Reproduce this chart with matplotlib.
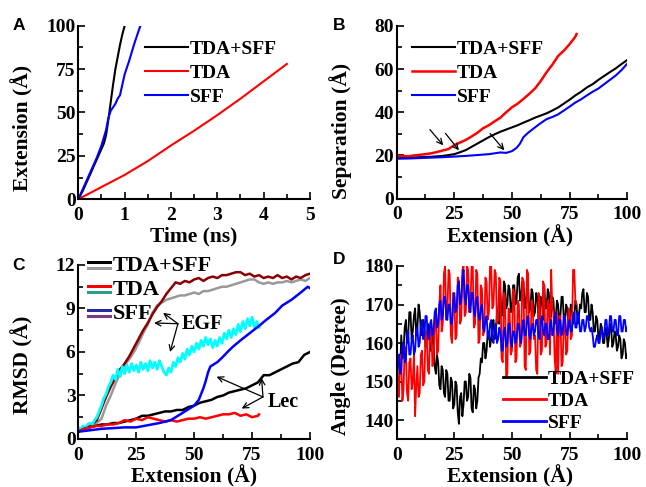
import matplotlib
matplotlib.use('Agg')
import matplotlib.pyplot as plt
from matplotlib.ticker import MultipleLocator
from matplotlib.legend_handler import HandlerBase
from matplotlib.lines import Line2D

plt.rcParams['font.family'] = 'Liberation Serif'
plt.rcParams['font.weight'] = 'bold'
plt.rcParams['axes.labelweight'] = 'bold'

# ---- A: extension vs time ----
a_time_both = [0, 0.1, 0.2, 0.3, 0.4, 0.5, 0.55, 0.6, 0.65, 0.7, 0.75, 0.8, 0.85, 0.9, 0.95, 1.0]
a_ext_both = [0, 5, 11, 17, 23, 29, 32, 37, 46, 56, 66, 75, 82, 89, 95, 100]
a_time_tda = [0, 0.5, 1, 1.5, 2, 2.5, 3, 3.5, 4, 4.5]
a_ext_tda = [0, 7, 14, 22, 31, 39.5, 48.5, 58, 68, 78]
a_time_sff = [0, 0.1, 0.2, 0.3, 0.4, 0.5, 0.6, 0.65, 0.7, 0.8, 0.85, 0.9, 0.95, 1.0, 1.1, 1.2, 1.3, 1.34]
a_ext_sff = [0, 6, 12, 18, 24, 31, 40, 47, 51, 55, 58, 60, 66, 72, 80, 89, 97, 100]

# ---- B: separation vs extension ----
b_ext_tda = [0, 2.5, 5, 7.5, 10, 12.5, 15, 17.5, 20, 22.5, 25, 27.5, 30, 32.5, 35, 37.5, 40,
             42.5, 45, 47.5, 50, 52.5, 55, 57.5, 60, 62.5, 65, 67.5, 70, 72.5, 75, 77.5, 78]
b_sep_tda = [19.5, 19.8, 19.6, 20.0, 20.3, 20.6, 21.0, 21.6, 22.3, 23.0, 24.8, 26.0, 27.2, 28.8,
             30.5, 32.6, 34.0, 35.8, 37.5, 40.0, 42.3, 44.0, 46.2, 48.5, 51.0, 54.5, 58.5, 62.0,
             66.0, 68.5, 71.5, 75.0, 76.2]
b_ext_both = [0, 5, 10, 15, 20, 25, 27.5, 30, 32.5, 35, 37.5, 40, 42.5, 45, 47.5, 50, 52.5, 55,
              57.5, 60, 62.5, 65, 67.5, 70, 72.5, 75, 77.5, 80, 82.5, 85, 87.5, 90, 92.5, 95, 97.5, 100]
b_sep_both = [19.0, 19.0, 19.2, 19.4, 19.8, 20.6, 21.5, 22.5, 24.0, 25.5, 27.0, 28.5, 29.8, 31.0,
              32.0, 33.0, 34.0, 35.2, 36.3, 37.5, 38.5, 39.5, 40.8, 42.2, 44.0, 45.8, 47.8, 49.5,
              51.5, 53.0, 55.0, 56.8, 58.6, 60.3, 62.3, 64.2]
b_ext_sff = [0, 5, 10, 15, 20, 25, 30, 35, 40, 42.5, 45, 47.5, 50, 52, 53.5, 55, 57, 60, 62.5, 65,
             67.5, 70, 72.5, 75, 77.5, 80, 82.5, 85, 87.5, 90, 92.5, 95, 97.5, 100]
b_sep_sff = [18.5, 18.6, 18.8, 19.0, 19.2, 19.5, 19.8, 20.2, 20.6, 21.0, 21.4, 21.2, 22.0, 23.5,
             25.5, 28.5, 30.5, 33.0, 35.0, 36.8, 37.8, 39.0, 40.8, 42.6, 44.5, 46.0, 47.8, 49.5,
             51.0, 53.0, 55.0, 57.0, 59.5, 62.5]

# ---- C: RMSD vs extension (Lec and EGF domains) ----
c_ext_egf_sff = list(range(0, 101, 2))
c_rmsd_egf_sff = [0.5, 0.7, 0.8, 1.0, 1.3, 2.1, 2.9, 3.6, 4.2, 4.8, 5.2, 5.7, 6.3, 6.9, 7.5, 8.0,
                  8.6, 9.1, 9.5, 10.0, 10.4, 10.8, 10.7, 10.9, 10.8, 11.0, 11.1, 10.9, 11.1, 11.2,
                  11.1, 11.3, 11.3, 11.4, 11.5, 11.5, 11.3, 11.4, 11.2, 11.3, 11.1, 11.2, 11.1,
                  11.3, 11.1, 11.2, 11.0, 11.2, 11.1, 11.3, 11.4]
c_ext_egf_both = list(range(0, 101, 2))
c_rmsd_egf_both = [0.5, 0.7, 0.8, 0.9, 1.1, 1.4, 2.3, 3.0, 3.8, 4.5, 5.1, 5.5, 6.0, 6.6, 7.3, 7.9,
                   8.7, 9.2, 9.4, 9.6, 9.7, 9.8, 9.9, 9.9, 10.0, 10.1, 10.0, 10.2, 10.2, 10.3,
                   10.4, 10.5, 10.5, 10.6, 10.7, 10.8, 10.9, 11.0, 11.0, 10.8, 10.7, 10.8, 10.7,
                   10.8, 10.8, 10.9, 10.8, 10.9, 11.0, 10.9, 11.1]
c_ext_egf_tda = list(range(0, 79))
c_rmsd_egf_tda = [0.8, 0.7, 0.9, 0.8, 1.0, 1.1, 1.0, 1.3, 1.5, 1.9, 2.3, 2.8, 3.1, 3.6, 3.9, 4.4,
                  4.1, 4.8, 4.3, 5.0, 4.5, 5.1, 4.6, 5.2, 4.7, 5.1, 4.6, 5.3, 4.8, 5.2, 4.7, 5.4,
                  4.9, 5.3, 4.8, 5.4, 5.0, 4.6, 4.4, 4.9, 4.6, 5.3, 5.0, 5.6, 5.3, 5.9, 5.5, 6.2,
                  5.8, 6.4, 6.0, 6.6, 6.2, 6.8, 6.4, 7.0, 6.5, 6.9, 6.3, 6.8, 6.4, 7.0, 6.6, 7.3,
                  6.9, 7.5, 7.0, 7.6, 7.2, 7.9, 7.4, 8.1, 7.6, 8.3, 7.8, 8.4, 7.7, 8.1, 7.7]
c_ext_lec_both = [0, 2.5, 5, 7.5, 10, 12.5, 15, 17.5, 20, 22.5, 25, 27.5, 30, 32.5, 35, 37.5, 40,
                  42.5, 45, 47.5, 50, 52.5, 55, 57.5, 60, 62.5, 65, 67.5, 70, 72.5, 75, 77.5, 80,
                  82.5, 85, 87.5, 90, 92.5, 95, 97.5, 100]
c_rmsd_lec_both = [0.5, 0.7, 0.8, 0.9, 1.0, 1.0, 1.1, 1.1, 1.2, 1.3, 1.4, 1.6, 1.6, 1.7, 1.8, 1.9,
                   1.9, 2.0, 2.0, 2.2, 2.3, 2.5, 2.6, 2.7, 2.9, 3.0, 3.2, 3.3, 3.4, 3.5, 3.7, 3.9,
                   4.4, 4.4, 4.6, 4.8, 5.0, 5.2, 5.3, 5.8, 6.0]
c_ext_lec_tda = [0, 2.5, 5, 7.5, 10, 12.5, 15, 17.5, 20, 22.5, 25, 27.5, 30, 32.5, 35, 37.5, 40,
                 42.5, 45, 47.5, 50, 52.5, 55, 57.5, 60, 62.5, 65, 67.5, 70, 72.5, 75, 77.5, 78]
c_rmsd_lec_tda = [0.5, 0.7, 0.8, 0.9, 0.9, 1.0, 1.0, 1.1, 1.3, 1.2, 1.4, 1.3, 1.5, 1.4, 1.3, 1.2,
                  1.3, 1.2, 1.3, 1.4, 1.4, 1.5, 1.4, 1.5, 1.6, 1.7, 1.7, 1.8, 1.6, 1.7, 1.5, 1.6, 1.7]
c_ext_lec_sff = [0, 10, 20, 25, 30, 35, 40, 45, 48, 50, 52, 54, 55, 56, 57, 60, 62, 65, 67, 70,
                 74, 78, 81, 85, 88, 92, 96, 99, 100]
c_rmsd_lec_sff = [0.5, 0.7, 0.8, 0.8, 0.95, 1.1, 1.3, 1.8, 2.1, 2.3, 2.7, 3.5, 4.0, 4.6, 5.0, 5.3,
                  5.6, 6.1, 6.4, 6.8, 7.3, 7.8, 8.2, 8.7, 9.2, 9.6, 10.1, 10.5, 10.4]

# ---- D: angle vs extension, sampled every 0.5 A ----
d_ext_both = [i * 0.5 for i in range(201)]
d_ang_both = [150, 155, 157, 152, 162, 156, 158, 164, 166, 160,
              162, 168, 168, 161, 163, 167, 169, 162, 164, 170,
              168, 163, 162, 166, 165, 159, 160, 165, 164, 158,
              158, 163, 160, 154, 152, 157, 155, 149, 148, 154,
              153, 147, 146, 153, 152, 145, 145, 151, 150, 143,
              144, 150, 149, 142, 139, 146, 147, 141, 144, 150,
              150, 145, 146, 152, 151, 143, 142, 149, 148, 143,
              145, 151, 152, 156, 155, 160, 160, 156, 158, 163,
              163, 159, 161, 165, 166, 161, 163, 168, 168, 165,
              173, 167, 168, 176, 175, 169, 170, 175, 174, 168,
              169, 175, 175, 170, 171, 177, 178, 171, 172, 176,
              176, 169, 170, 175, 174, 168, 169, 174, 173, 167,
              168, 173, 172, 166, 167, 172, 171, 166, 175, 169,
              169, 174, 173, 166, 167, 172, 171, 165, 166, 171,
              170, 165, 167, 172, 172, 166, 166, 170, 169, 164,
              165, 170, 169, 165, 166, 171, 170, 165, 167, 170,
              169, 173, 174, 168, 168, 173, 172, 166, 166, 170,
              168, 163, 163, 167, 166, 161, 162, 165, 164, 160,
              160, 164, 163, 159, 161, 165, 164, 159, 160, 163,
              162, 158, 159, 162, 161, 156, 157, 161, 160, 156,
              157]
d_ext_tda = [i * 0.5 for i in range(157)]
d_ang_tda = [160, 150, 146, 157, 155, 145, 148, 159, 158, 147,
             145, 155, 156, 148, 150, 157, 141, 149, 154, 146,
             147, 157, 158, 149, 150, 162, 163, 153, 152, 164,
             165, 154, 155, 166, 168, 157, 158, 170, 175, 163,
             165, 178, 180, 166, 168, 179, 178, 162, 160, 173,
             172, 161, 162, 177, 176, 165, 166, 179, 180, 167,
             168, 180, 179, 168, 170, 180, 180, 164, 165, 179,
             178, 160, 161, 175, 174, 162, 163, 177, 176, 166,
             168, 180, 180, 169, 170, 179, 178, 165, 166, 177,
             176, 156, 155, 173, 172, 151, 152, 169, 168, 157,
             158, 174, 173, 155, 156, 171, 170, 159, 160, 177,
             176, 154, 153, 179, 178, 157, 158, 171, 170, 161,
             162, 153, 152, 173, 172, 157, 158, 176, 175, 159,
             160, 171, 170, 157, 179, 169, 168, 156, 152, 168,
             152, 167, 167, 154, 155, 166, 165, 157, 158, 169,
             168, 161, 162, 179, 179, 171,
             170]
d_ext_sff = [i * 0.5 for i in range(201)]
d_ang_sff = [150, 155, 157, 152, 153, 159, 160, 155, 156, 162,
             163, 157, 157, 161, 162, 157, 158, 163, 164, 159,
             160, 165, 166, 161, 162, 167, 167, 162, 161, 165,
             166, 162, 163, 168, 169, 164, 165, 170, 171, 166,
             167, 172, 172, 167, 166, 170, 170, 165, 165, 171,
             173, 168, 169, 175, 176, 170, 171, 177, 179, 172,
             170, 175, 175, 169, 168, 173, 173, 168, 167, 171,
             172, 167, 166, 169, 170, 164, 163, 166, 167, 162,
             161, 165, 166, 161, 160, 164, 165, 160, 161, 164,
             163, 158, 158, 163, 164, 159, 160, 165, 165, 160,
             159, 163, 163, 160, 161, 165, 165, 161, 160, 164,
             166, 162, 162, 166, 167, 162, 161, 164, 165, 162,
             163, 166, 166, 162, 161, 166, 167, 163, 162, 165,
             165, 161, 161, 165, 166, 162, 163, 167, 168, 163,
             162, 166, 166, 162, 163, 167, 167, 163, 162, 165,
             166, 163, 163, 167, 168, 164, 164, 168, 167, 163,
             163, 166, 166, 163, 164, 167, 167, 164, 163, 164,
             162, 159, 159, 161, 162, 160, 160, 163, 164, 161,
             162, 166, 166, 162, 163, 167, 167, 163, 163, 166,
             166, 162, 162, 167, 167, 163, 163, 166, 166, 163,
             164]


class PairHandler(HandlerBase):
    # two stacked colour lines per legend entry
    def create_artists(self, legend, orig_handle, xdescent, ydescent, width, height, fontsize, trans):
        arts = []
        for color, frac in zip(orig_handle, (0.6, 0.2)):
            y = frac * height - ydescent
            arts.append(Line2D([-xdescent, width - xdescent], [y, y], color=color, lw=2.2,
                               transform=trans))
        return arts


def style(ax, xmaj, ymaj):
    for s in ['top', 'right']:
        ax.spines[s].set_visible(False)
    for s in ['left', 'bottom']:
        ax.spines[s].set_linewidth(1.5)
    ax.xaxis.set_major_locator(MultipleLocator(xmaj))
    ax.xaxis.set_minor_locator(MultipleLocator(xmaj / 2))
    ax.yaxis.set_major_locator(MultipleLocator(ymaj))
    ax.yaxis.set_minor_locator(MultipleLocator(ymaj / 2))
    ax.tick_params(which='both', direction='in', width=1.2, labelsize=14, top=False, right=False)
    ax.tick_params(which='major', length=5)
    ax.tick_params(which='minor', length=3.5)
    ax.tick_params(axis='x', pad=5.5)
    ax.tick_params(axis='y', pad=2)


def arrow(ax, tail, head):
    ax.annotate('', xy=head, xytext=tail,
                arrowprops=dict(arrowstyle='->', lw=0.9, color='k', shrinkA=0, shrinkB=0))


legend_kw = dict(loc='upper left', frameon=False, borderpad=0, borderaxespad=0,
                 handletextpad=0.1)

fig = plt.figure(figsize=(6.46, 4.87), dpi=100)
axA = fig.add_axes([0.1212, 0.591, 0.3587, 0.356])
axB = fig.add_axes([0.614, 0.592, 0.357, 0.355])
axC = fig.add_axes([0.1212, 0.0986, 0.3587, 0.3573])
axD = fig.add_axes([0.614, 0.098, 0.357, 0.3558])

# A
axA.plot(a_time_both, a_ext_both, color='black', lw=1.5, label='TDA+SFF')
axA.plot(a_time_tda, a_ext_tda, color='red', lw=1.5, label='TDA')
axA.plot(a_time_sff, a_ext_sff, color='blue', lw=1.5, label='SFF')
axA.set_xlim(0, 5)
axA.set_ylim(0, 100)
style(axA, 1, 25)
axA.set_xlabel('Time (ns)', fontsize=15.5)
axA.set_ylabel('Extension (Å)', fontsize=15.5)
axA.xaxis.set_label_coords(0.5, -0.16)
axA.yaxis.set_label_coords(-0.195, 0.41)
axA.legend(bbox_to_anchor=(0.288, 0.917), fontsize=14, labelspacing=0.33, handlelength=2.2,
           **legend_kw)

# B
axB.plot(b_ext_both, b_sep_both, color='black', lw=1.5, label='TDA+SFF')
axB.plot(b_ext_tda, b_sep_tda, color='red', lw=1.8, label='TDA')
axB.plot(b_ext_sff, b_sep_sff, color='blue', lw=1.5, label='SFF')
arrow(axB, (14.4, 32.0), (20.2, 24.7))
arrow(axB, (21.2, 30.2), (27.0, 22.4))
arrow(axB, (40.5, 30.2), (46.7, 22.4))
axB.set_xlim(0, 100)
axB.set_ylim(0, 80)
style(axB, 25, 20)
axB.set_xlabel('Extension (Å)', fontsize=15.5)
axB.set_ylabel('Separation (Å)', fontsize=15.5)
axB.xaxis.set_label_coords(0.49, -0.15)
axB.yaxis.set_label_coords(-0.194, 0.39)
axB.legend(bbox_to_anchor=(0.066, 0.917), fontsize=14, labelspacing=0.33, handlelength=2.2,
           **legend_kw)

# C
axC.plot(c_ext_egf_both, c_rmsd_egf_both, color='#999999', lw=1.8)
axC.plot(c_ext_egf_sff, c_rmsd_egf_sff, color='#8b0000', lw=1.8)
axC.plot(c_ext_egf_tda, c_rmsd_egf_tda, color='cyan', lw=2.0)
axC.plot(c_ext_lec_both, c_rmsd_lec_both, color='black', lw=1.8)
axC.plot(c_ext_lec_tda, c_rmsd_lec_tda, color='red', lw=1.8)
axC.plot(c_ext_lec_sff, c_rmsd_lec_sff, color='blue', lw=1.8)
axC.text(44.8, 7.95, 'EGF', fontsize=14.5, va='center', ha='left')
for head in [(36.6, 8.7), (32.7, 8.0), (39.6, 6.0)]:
    arrow(axC, (43.0, 7.95), head)
axC.text(81.9, 2.55, 'Lec', fontsize=14.5, va='center', ha='left')
for head in [(59.7, 4.3), (79.1, 4.2), (70.5, 2.1)]:
    arrow(axC, (79.7, 2.9), head)
axC.set_xlim(0, 100)
axC.set_ylim(0, 12)
style(axC, 25, 3)
axC.set_xlabel('Extension (Å)', fontsize=15.5)
axC.set_ylabel('RMSD (Å)', fontsize=15.5)
axC.xaxis.set_label_coords(0.5, -0.15)
axC.yaxis.set_label_coords(-0.195, 0.425)
pairs = [('black', '#999999'), ('red', '#2e9e86'), ('#2a2a9a', '#7a3a7a')]
axC.legend(pairs, ['TDA+SFF', 'TDA', 'SFF'], handler_map={tuple: PairHandler()},
           bbox_to_anchor=(0.042, 1.053), fontsize=16, labelspacing=0.15, handlelength=1.0,
           **legend_kw)

# D
axD.plot(d_ext_both, d_ang_both, color='black', lw=1.3, label='TDA+SFF')
axD.plot(d_ext_tda, d_ang_tda, color='red', lw=1.3, label='TDA')
axD.plot(d_ext_sff, d_ang_sff, color='blue', lw=1.3, label='SFF')
axD.set_xlim(0, 100)
axD.set_ylim(135, 180)
style(axD, 25, 10)
axD.set_xlabel('Extension (Å)', fontsize=15.5)
axD.set_ylabel('Angle (Degree)', fontsize=15.5)
axD.xaxis.set_label_coords(0.49, -0.15)
axD.yaxis.set_label_coords(-0.2, 0.42)
legD = axD.legend(bbox_to_anchor=(0.461, 0.397), fontsize=14, labelspacing=0.23,
                  handlelength=2.2, **legend_kw)
for ln in legD.get_lines():
    ln.set_linewidth(2)

for letter, x, y in [('A', 0.019, 0.947), ('B', 0.515, 0.947), ('C', 0.019, 0.455), ('D', 0.515, 0.468)]:
    fig.text(x, y, letter, fontsize=12.5, fontweight='bold', family='Liberation Sans', va='center')

fig.savefig('out.png', dpi=100)
